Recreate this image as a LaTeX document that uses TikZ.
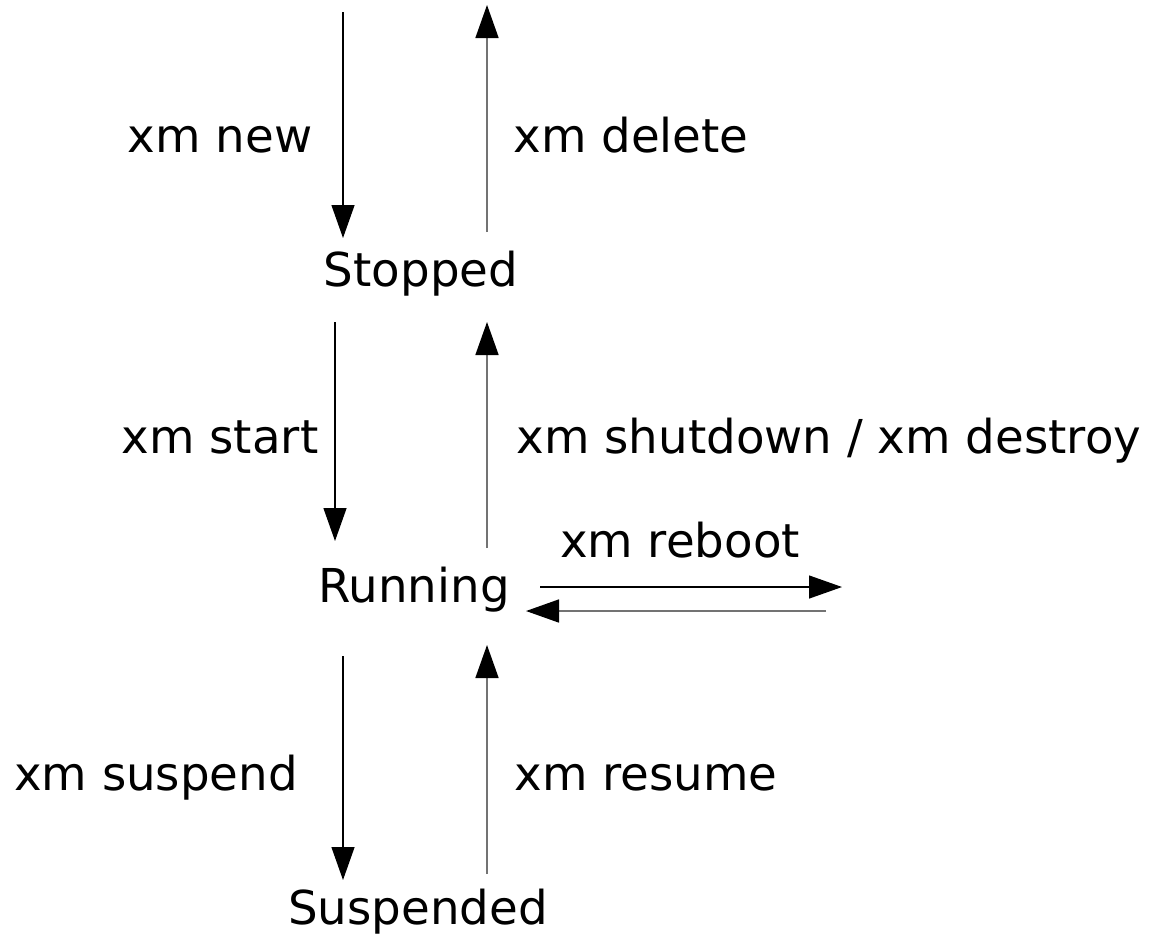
\documentclass[tikz,border=0pt]{standalone}
\usepackage{fontspec}
\setmainfont{DejaVu Sans}
\usetikzlibrary{arrows.meta}
\begin{document}
\begin{tikzpicture}[x=0.5pt,y=-0.5pt,
  lbl/.style={anchor=base,inner sep=0pt,font=\fontsize{23.35}{28}\selectfont},
  down/.style={draw=black,line width=0.65pt,-{Triangle[length=16.5pt,width=11.5pt,color=black,fill=black]}},
  up/.style={draw=black!55,line width=0.8pt,-{Triangle[length=16.5pt,width=11.5pt,color=black,fill=black]}}]
\useasboundingbox (0,0) rectangle (1154,938);
% state labels
\node[lbl] (stopped) at (421,286) {Stopped};
\node[lbl] (running) at (414,602) {Running};
\node[lbl] (suspended) at (418,924) {Suspended};
% transition labels
\node[lbl] (lnew) at (220,152) {xm new};
\node[lbl] (ldelete) at (631,152) {xm delete};
\node[lbl] (lstart) at (220,453) {xm start};
\node[lbl] (lshut) at (829,453) {xm shutdown / xm destroy};
\node[lbl] (lreboot) at (680,557) {xm reboot};
\node[lbl] (lsuspend) at (156,790) {xm suspend};
\node[lbl] (lresume) at (646,790) {xm resume};
% connector end points
\coordinate (n1) at (343,12);  \coordinate (n2) at (343,238);
\coordinate (d1) at (487,232); \coordinate (d2) at (487,5);
\coordinate (s1) at (335,322); \coordinate (s2) at (335,541);
\coordinate (h1) at (487,548); \coordinate (h2) at (487,322);
\coordinate (r1) at (540,587); \coordinate (r2) at (842,587);
\coordinate (b1) at (826,611); \coordinate (b2) at (526,611);
\coordinate (p1) at (343,656); \coordinate (p2) at (343,880);
\coordinate (m1) at (487,874); \coordinate (m2) at (487,645);
% connectors
\draw[down] (n1) -- (n2);
\draw[up] (d1) -- (d2);
\draw[down] (s1) -- (s2);
\draw[up] (h1) -- (h2);
\draw[down] (r1) -- (r2);
\draw[up] (b1) -- (b2);
\draw[down] (p1) -- (p2);
\draw[up] (m1) -- (m2);
\end{tikzpicture}
\end{document}
